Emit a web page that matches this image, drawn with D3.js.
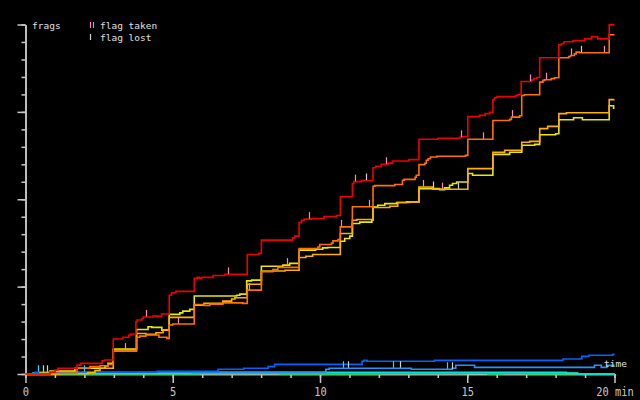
<!DOCTYPE html>
<html>
<head>
<meta charset="utf-8">
<script src="https://d3js.org/d3.v7.min.js"></script>
<style>
  body { margin: 0; background: #000; }
  svg { display: block; }
</style>
</head>
<body>
<div id="chart"></div>
<script>
// frags of each player over the match, as [minute, frags] steps
var red = [[0,0],[0.83,1.1],[1.0,2.3],[1.1,3.3],[1.75,5.1],[1.88,6.1],[2.6,7.6],[2.7,8],[2.98,20],[3.31,21],[3.51,22.3],[3.58,22.9],[3.75,29.9],[3.79,30.9],[3.95,31.8],[4.0,32.6],[4.33,33.1],[4.62,34.3],[4.88,45.1],[4.96,46.5],[5.11,47.3],[5.73,54.7],[5.83,55.3],[5.9,54.7],[5.98,55.3],[6.37,56.4],[6.77,57],[7.53,68.4],[7.93,69],[8.01,76.6],[9.07,77.9],[9.14,78.9],[9.29,86.7],[9.37,88],[9.46,88.6],[9.71,89],[10.14,90.1],[10.56,90.7],[10.69,101.4],[11.1,109],[11.15,110.1],[11.41,110.7],[11.8,118],[11.89,118.9],[12.08,120],[12.31,120.7],[12.46,121.9],[13.02,122.7],[13.36,134.3],[14.01,134.9],[14.74,135.4],[14.85,135.8],[15.02,147.3],[15.42,148],[15.61,149],[15.76,149.7],[15.87,157],[15.93,158.1],[16.01,158.7],[16.64,159.3],[16.71,159.8],[16.83,167.4],[17.19,168.2],[17.26,169],[17.36,169.7],[17.46,181],[18.11,188.4],[18.2,189],[18.28,190.1],[18.59,190.7],[18.99,191.8],[19.22,193],[19.43,191.8],[19.82,199.8]]
var orange = [[0,0],[0.83,0.4],[1.75,3.3],[2.19,4.2],[2.53,4.7],[2.8,5.5],[2.98,13.1],[3.77,21],[3.88,21.7],[4.09,22.3],[4.53,21],[4.8,20.4],[4.88,28],[5.0,28.6],[5.73,39.8],[6.06,39.2],[6.26,40],[6.7,40.7],[7.38,40.4],[7.53,48],[8.01,58.5],[8.4,59.8],[8.57,61],[9.29,71.8],[9.93,72.7],[9.99,74.1],[10.39,74.9],[10.44,76.2],[10.61,77],[10.69,84.2],[11.1,95.7],[11.8,107.4],[11.86,107.8],[12.54,108.4],[12.8,110.9],[12.86,111.4],[13.23,112.6],[13.27,113.7],[13.36,119.8],[13.56,120.6],[13.61,122.3],[13.67,123.2],[13.75,124.2],[13.97,124.6],[14.94,125.1],[15.02,134.3],[15.87,145.1],[16.44,145.7],[16.5,147],[16.78,147.8],[16.85,159.4],[16.94,159.8],[17.46,167],[17.57,168],[17.63,168.4],[17.85,169],[17.96,169.5],[18.11,181],[18.45,181.7],[18.51,182.3],[18.64,183.2],[18.7,184.2],[18.81,183.8],[19.82,194.1]]
var amber = [[0,0],[1.17,0.3],[2.12,0.9],[2.36,2],[2.53,3.3],[2.98,13.7],[3.77,23.2],[4.09,22.7],[4.43,23.6],[4.67,25.1],[4.88,32.4],[5.73,39.3],[6.06,40.4],[6.7,41.7],[7.0,42.9],[7.11,43.6],[7.53,51.4],[8.01,58.9],[8.81,59.4],[9.29,66.7],[9.52,67.4],[9.75,68.4],[10.69,80.4],[11.1,88],[11.25,88.4],[11.8,95.3],[12.37,96],[12.64,98.1],[13.04,98.5],[13.36,107],[13.82,105.7],[15.02,117.5],[15.87,126.9],[16.27,128],[16.85,132.6],[17.12,133.1],[17.46,140.4],[17.73,141.7],[18.11,149],[18.37,149.5],[19.82,157]]
var yellow = [[0,0],[0.49,0.6],[0.83,1.7],[1.68,3.3],[2.7,4.6],[2.8,6.1],[2.98,14.3],[3.77,25.5],[4.16,27],[4.29,26.7],[4.63,25.1],[4.88,34.1],[5.24,35],[5.34,36],[5.58,37],[5.73,44.6],[7.17,45.1],[7.28,45.7],[7.51,53.3],[7.68,53.7],[8.01,61.7],[8.74,62.3],[8.97,63.3],[9.29,70.9],[9.85,71.4],[10.09,72.2],[10.26,72.4],[10.69,76],[10.84,77.5],[11.01,78.9],[11.1,86.1],[11.35,86.9],[11.76,88],[11.8,95.6],[11.96,96.6],[12.2,97.5],[12.6,98.1],[12.94,98.5],[13.36,106.1],[14.06,105.5],[14.23,106.5],[14.4,108],[14.5,109],[14.64,109.9],[15.02,114.7],[15.18,113.7],[15.87,125.7],[16.44,126.9],[16.85,130.9],[17.29,131.4],[17.46,136.9],[18.0,137.5],[18.11,145.5],[18.61,146.6],[18.91,145.5],[19.82,153.5],[19.97,152.1]]
var blue = [[0,0],[0.32,1],[4.47,1.5],[6.54,2.7],[7.41,3.3],[8.24,4.2],[8.46,5.5],[11.43,7.3],[11.49,7.8],[11.6,7.3],[13.89,7.8],[18.25,8.6],[18.89,10.1],[19.13,10.7],[19.94,11.3]]
var lightBlue = [[0,0],[0.5,1],[10.2,2.7],[10.31,3.3],[13.1,2.7],[14.49,3.3],[14.61,5],[15.25,3.8],[19.32,5],[19.55,3.8],[19.74,5]]
var cyan = [[0,0],[0.25,0.5],[5.6,1],[18.37,0.5],[18.74,0]]
var green = [[0,0],[5.9,0.3],[8.64,0],[12.03,0.3],[15.7,0],[16.2,0.3],[17.0,0]]
var grey = [[0,0],[14.98,0.4],[15.7,0],[17.0,0.4],[18.75,0]]

var players = [red, orange, amber, yellow, blue, lightBlue, cyan, green, grey]
var playerColors = ["#ee0000", "#ff7000", "#ffb000", "#e8e800", "#0064ff", "#1e96ff", "#00e4e4", "#20d040", "#a8a8a8"]
var redTeamSize = 4

// flag events: [minute, player index]
var flagTaken = [[0.43,4],[1.99,4],[3.38,2],[4.1,0],[5.18,1],[6.88,0],[7.59,1],[8.88,3],[9.63,0],[10.73,1],[10.77,5],[11.19,0],[11.66,1],[12.24,0],[12.47,5],[13.5,2],[14.14,3],[14.3,5],[14.79,0],[15.53,1],[16.53,1],[17.13,0],[17.66,1],[18.52,1],[19.64,1]]
var flagLost = [[0.6,4],[0.74,4],[10.94,5],[11.56,0],[12.71,5],[13.84,3],[14.47,5],[14.68,2],[18.85,1]]

var xMinor = d3.range(0, 21)
var xMajor = [0, 5, 10, 15, 20]
var yMinor = d3.range(0, 201, 10)
var yMajor = d3.range(0, 201, 50)

var width = 640,
    height = 400

var axisColor = "#c8c8c8",
    takenRed = "#ff88c0",
    takenBlue = "#20dcff",
    lostColor = "#d0d0d0",
    mono = "'DejaVu Sans Mono', monospace"

var svg = d3.select("#chart")
  .append("svg")
    .attr("width", width)
    .attr("height", height)
    .style("background", "#000")

var x = d3.scaleLinear().domain([0, 20]).range([25.5, 614.5])
var y = d3.scaleLinear().domain([0, 200]).range([374, 24.5])

// axes: minor and major ticks drawn as two passes
function styleAxis(g) {
  g.attr("color", axisColor)
  g.selectAll("path, line").attr("stroke-width", 1.5)
}

svg.append("g")
  .attr("transform", "translate(0,374)")
  .call(d3.axisBottom(x).tickValues(xMinor).tickSize(4).tickSizeOuter(0).tickFormat(""))
  .call(styleAxis)

svg.append("g")
  .attr("transform", "translate(0,374)")
  .call(d3.axisBottom(x).tickValues(xMajor).tickSize(9).tickSizeOuter(0)
    .tickFormat(function(d) { return d === 20 ? "20 min" : d }))
  .call(styleAxis)
  .call(function(g) {
    g.selectAll("text")
      .attr("y", 22)
      .attr("dy", null)
      .attr("transform", "scale(0.8,1)")
      .style("font-family", mono)
      .style("font-size", "13px")
  })

svg.append("g")
  .attr("transform", "translate(25.5,0)")
  .call(d3.axisLeft(y).tickValues(yMinor).tickSize(4).tickSizeOuter(0).tickFormat(""))
  .call(styleAxis)

svg.append("g")
  .attr("transform", "translate(25.5,0)")
  .call(d3.axisLeft(y).tickValues(yMajor).tickSize(8).tickSizeOuter(0).tickFormat(""))
  .call(styleAxis)

// step lines, carried on to the end of the match
var line = d3.line()
  .curve(d3.curveStepAfter)
  .x(function(d) { return x(d[0]) })
  .y(function(d) { return y(d[1]) })

function extend(series) {
  var last = series[series.length - 1]
  return last[0] < 20 ? series.concat([[20, last[1]]]) : series
}

var drawOrder = [8, 7, 6, 5, 4, 3, 2, 1, 0]

svg.append("g")
  .selectAll("path")
  .data(drawOrder)
  .enter()
  .append("path")
    .attr("d", function(i) { return line(extend(players[i])) })
    .attr("fill", "none")
    .attr("stroke", function(i) { return playerColors[i] })
    .attr("stroke-width", 1.6)

// flag markers sit on the player's line
function valueAt(series, t) {
  var i = d3.bisector(function(d) { return d[0] }).right(series, t) - 1
  return series[Math.max(0, i)][1]
}

function markers(events, colorOf) {
  svg.append("g")
    .selectAll("line")
    .data(events)
    .enter()
    .append("line")
      .attr("x1", function(d) { return Math.round(x(d[0])) + 0.5 })
      .attr("x2", function(d) { return Math.round(x(d[0])) + 0.5 })
      .attr("y1", function(d) { return y(valueAt(players[d[1]], d[0])) - 0.5 })
      .attr("y2", function(d) { return y(valueAt(players[d[1]], d[0])) - 7 })
      .attr("stroke", colorOf)
      .attr("stroke-width", 1.2)
}

markers(flagTaken, function(d) { return d[1] < redTeamSize ? takenRed : takenBlue })
markers(flagLost, function() { return lostColor })

// labels and legend
function label(txt, px, py) {
  svg.append("text")
    .attr("x", px)
    .attr("y", py)
    .attr("fill", "#e0e0e0")
    .style("font-family", mono)
    .style("font-size", "9.5px")
    .text(txt)
}

label("frags", 32, 29)
label("flag taken", 100, 29)
label("flag lost", 100, 41)
label("time", 604, 367)

var legendBars = [[90.5, 22, 28, takenRed], [93.5, 22, 28, takenBlue], [90.5, 34, 40, lostColor]]
svg.append("g")
  .selectAll("line")
  .data(legendBars)
  .enter()
  .append("line")
    .attr("x1", function(d) { return d[0] })
    .attr("x2", function(d) { return d[0] })
    .attr("y1", function(d) { return d[1] })
    .attr("y2", function(d) { return d[2] })
    .attr("stroke", function(d) { return d[3] })
    .attr("stroke-width", 1.2)
</script>
</body>
</html>
